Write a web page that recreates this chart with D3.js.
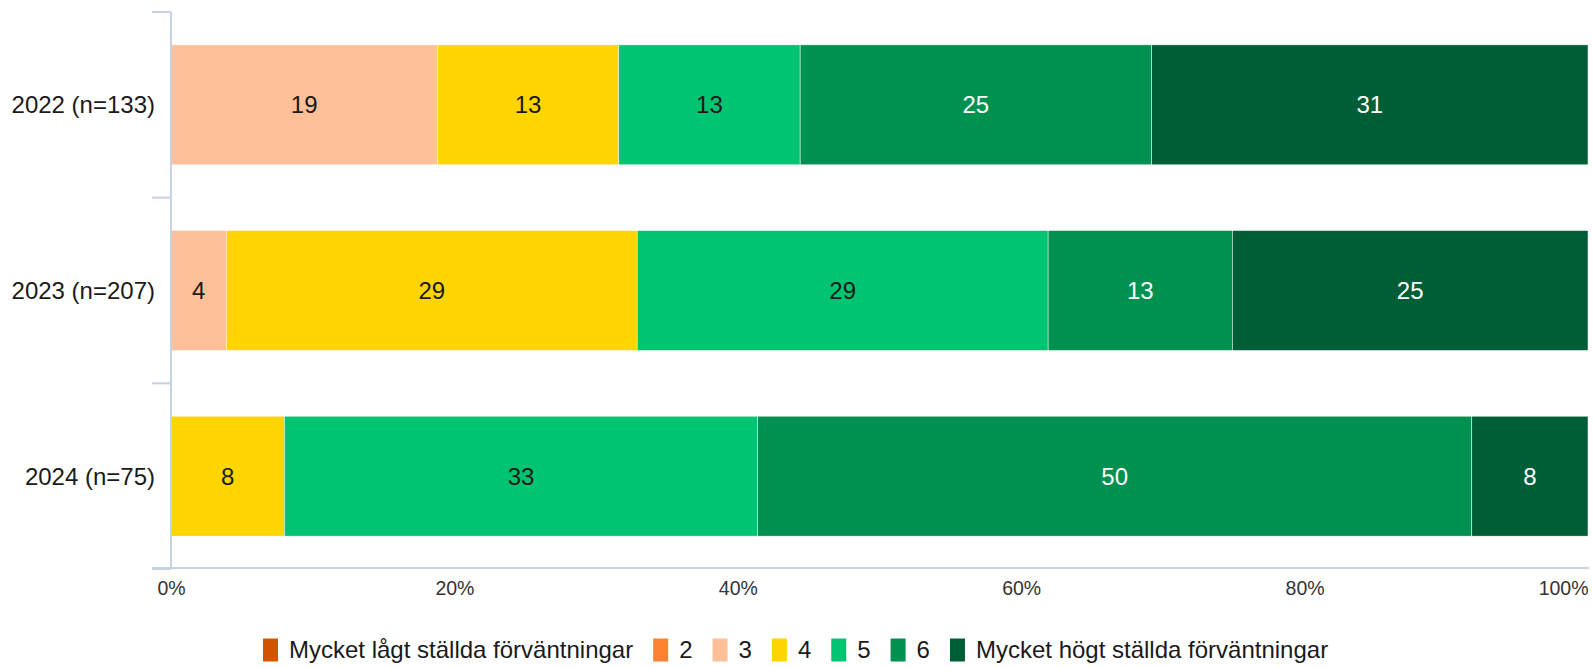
<!DOCTYPE html>
<html>
<head>
<meta charset="utf-8">
<script src="https://cdn.jsdelivr.net/npm/d3@7"></script>
<style>
  body { margin: 0; background: #fff; }
  svg { display: block; font-family: "Liberation Sans", Arial, sans-serif; }
</style>
</head>
<body>
<div id="wrapper"></div>
<script>
// categories (rows) and answer levels
const years = ["2022 (n=133)", "2023 (n=207)", "2024 (n=75)"]
const levels = ["Mycket lågt ställda förväntningar", "2", "3", "4", "5", "6", "Mycket högt ställda förväntningar"]
const levelColors = ["#d35400", "#ff8133", "#ffbf99", "#ffd500", "#00c472", "#00904f", "#005e36"]

// share of answers per level, in percent
const values2022 = [0, 0, 18.8, 12.8, 12.8, 24.8, 30.8]
const values2023 = [0, 0, 3.9, 29.0, 29.0, 13.0, 25.1]
const values2024 = [0, 0, 0, 8.0, 33.4, 50.4, 8.2]

const xTicks = [0, 20, 40, 60, 80, 100]

const rows = [values2022, values2023, values2024]

const dimensions = {
  width: 1593,
  height: 667,
  margin: { top: 12, right: 5, bottom: 98, left: 171 }
}
dimensions.boundedWidth = dimensions.width - dimensions.margin.left - dimensions.margin.right
dimensions.boundedHeight = dimensions.height - dimensions.margin.top - dimensions.margin.bottom

const axisColor = "#c4d2e4"

const wrapper = d3.select("#wrapper")
  .append("svg")
  .attr("width", dimensions.width)
  .attr("height", dimensions.height)

const bounds = wrapper.append("g")
  .attr("transform", `translate(${dimensions.margin.left},${dimensions.margin.top})`)

const xScale = d3.scaleLinear()
  .domain([0, 100])
  .range([0, dimensions.boundedWidth])

const yScale = d3.scaleBand()
  .domain(years)
  .range([0, dimensions.boundedHeight])
  .paddingInner(0.354)
  .paddingOuter(0.177)

const colorScale = d3.scaleOrdinal()
  .domain(levels)
  .range(levelColors)

// stack the rows
const table = rows.map((vals, i) => {
  const row = { year: years[i] }
  levels.forEach((l, j) => row[l] = vals[j])
  return row
})
const series = d3.stack().keys(levels)(table)

const layers = bounds.append("g")
  .selectAll("g")
  .data(series)
  .join("g")
  .attr("fill", d => colorScale(d.key))

layers.selectAll("rect")
  .data(d => d.filter(s => s[1] - s[0] > 0))
  .join("rect")
  .attr("x", d => xScale(d[0]))
  .attr("y", d => yScale(d.data.year))
  .attr("width", d => xScale(d[1]) - xScale(d[0]))
  .attr("height", yScale.bandwidth())
  .attr("stroke", "#fff")
  .attr("stroke-width", 0.5)

// value labels, white on the dark greens
const darkLevels = [levels[0], levels[5], levels[6]]
layers.each(function(layer) {
  d3.select(this).selectAll("text")
    .data(layer.filter(s => s[1] - s[0] > 0))
    .join("text")
    .attr("x", d => xScale((d[0] + d[1]) / 2))
    .attr("y", d => yScale(d.data.year) + yScale.bandwidth() / 2)
    .attr("dy", "0.35em")
    .attr("text-anchor", "middle")
    .attr("font-size", 24)
    .attr("fill", darkLevels.includes(layer.key) ? "#ffffff" : "#1a1a1a")
    .text(d => Math.round(d[1] - d[0]))
})

// y axis: line with ticks on band edges
const step = yScale.step()
const edges = years.map(y => yScale(y) - step * yScale.paddingInner() / 2)
edges.push(dimensions.boundedHeight)

bounds.append("line")
  .attr("x1", 0).attr("x2", 0)
  .attr("y1", 0).attr("y2", dimensions.boundedHeight)
  .attr("stroke", axisColor)
  .attr("stroke-width", 2)

bounds.append("g")
  .selectAll("line")
  .data(edges)
  .join("line")
  .attr("x1", -19).attr("x2", 0)
  .attr("y1", d => d).attr("y2", d => d)
  .attr("stroke", axisColor)
  .attr("stroke-width", 2)

bounds.append("g")
  .selectAll("text")
  .data(years)
  .join("text")
  .attr("x", -16)
  .attr("y", d => yScale(d) + yScale.bandwidth() / 2)
  .attr("dy", "0.35em")
  .attr("text-anchor", "end")
  .attr("font-size", 24)
  .attr("fill", "#1a1a1a")
  .text(d => d)

// x axis
const xAxis = bounds.append("g")
  .attr("transform", `translate(0,${dimensions.boundedHeight - 1})`)
  .call(d3.axisBottom(xScale).tickValues(xTicks).tickSize(0).tickFormat(d => d + "%"))

xAxis.select(".domain").remove()
xAxis.append("line")
  .attr("x1", -19).attr("x2", dimensions.boundedWidth + 1)
  .attr("stroke", axisColor)
  .attr("stroke-width", 2)

xAxis.selectAll(".tick text")
  .attr("y", 13)
  .attr("dy", "0.71em")
  .attr("font-size", 19.5)
  .attr("font-family", "Liberation Sans, Arial, sans-serif")
  .attr("fill", "#333")
  .filter(d => d === 100)
  .attr("text-anchor", "end")
  .attr("x", 0)

// legend
const legend = wrapper.append("g")
  .attr("transform", "translate(263,650)")

let cursor = 0
levels.forEach((l, i) => {
  const item = legend.append("g").attr("transform", `translate(${cursor},0)`)
  item.append("rect")
    .attr("x", 0).attr("y", -11.5)
    .attr("width", 15).attr("height", 23)
    .attr("fill", colorScale(l))
  const txt = item.append("text")
    .attr("x", 26)
    .attr("y", 0)
    .attr("dy", "0.35em")
    .attr("font-size", 24)
    .attr("fill", "#1a1a1a")
    .text(l)
  cursor += 26 + txt.node().getComputedTextLength() + 20
})
</script>
</body>
</html>
